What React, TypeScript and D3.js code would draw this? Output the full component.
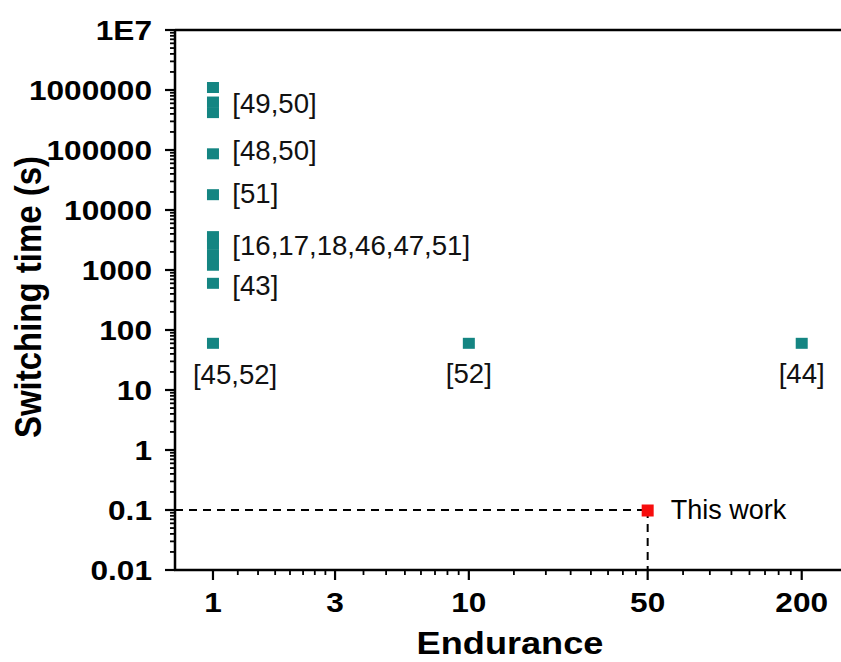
import React from "react";
import * as d3 from "d3";

const W = 841;
const H = 662;

// axis ticks
const xTickValues = [1, 3, 10, 50, 200];
const xTickLabels = ["1", "3", "10", "50", "200"];
const yTickValues = [0.01, 0.1, 1, 10, 100, 1000, 10000, 100000, 1000000, 10000000];
const yTickLabels = ["0.01", "0.1", "1", "10", "100", "1000", "10000", "100000", "1000000", "1E7"];

// literature data (endurance, switching time in s)
const refEndurance = [1, 1, 1, 1, 1, 1, 1, 1, 1, 1, 1, 10, 200];
const refTime = [1100000, 630000, 420000, 86400, 18000, 3600, 2700, 1800, 1200, 600, 60, 60, 60];

// this work
const workEndurance = [50];
const workTime = [0.1];
const workLabel = ["This work"];

// reference labels (data coordinates)
const labelText = ["[49,50]", "[48,50]", "[51]", "[16,17,18,46,47,51]", "[43]", "[45,52]", "[52]", "[44]"];
const labelX = [1.19, 1.19, 1.19, 1.19, 1.19, 1.22, 10, 200];
const labelY = [600000, 100000, 19000, 2600, 560, 18, 18.5, 18.5];
const labelAnchor = ["start", "start", "start", "start", "start", "middle", "middle", "middle"];

const TEAL = "#148582";
const RED = "#f70d0d";
const FONT = "'Liberation Sans', Arial, sans-serif";

export default function App() {
  const left = 175, right = 843, top = 30, bottom = 570;
  const x = d3.scaleLog().domain([0.7105, 290]).range([left, right]);
  const y = d3.scaleLog().domain([0.01, 1e7]).range([bottom, top]);

  // minor x ticks: 7 linear subdivisions between major ticks
  const xMinor: number[] = [];
  for (let k = 0; k < xTickValues.length - 1; k++) {
    const a = xTickValues[k], b = xTickValues[k + 1];
    for (let i = 1; i < 8; i++) xMinor.push(a + (i * (b - a)) / 8);
  }
  const yMinor: number[] = [];
  for (let k = 0; k < yTickValues.length - 1; k++) {
    for (let m = 2; m <= 9; m++) yMinor.push(yTickValues[k] * m);
  }

  const mw = 12, mh = 11;
  const sx = 1.13;

  return (
    <svg width={W} height={H} style={{ position: "absolute", left: 0, top: 0, background: "#fff" }} fontFamily={FONT}>
      {/* dashed guide lines */}
      <line x1={left} x2={x(workEndurance[0])} y1={y(workTime[0])} y2={y(workTime[0])} stroke="#000" strokeWidth={2} strokeDasharray="8,6" />
      <line x1={x(workEndurance[0])} x2={x(workEndurance[0])} y1={y(workTime[0])} y2={bottom} stroke="#000" strokeWidth={2} strokeDasharray="8,6" />

      {/* frame */}
      <line x1={left} x2={W} y1={top} y2={top} stroke="#000" strokeWidth={2.5} />
      <line x1={left} x2={left} y1={top - 1} y2={bottom + 1} stroke="#000" strokeWidth={2.5} />
      <line x1={left - 1} x2={W} y1={bottom} y2={bottom} stroke="#000" strokeWidth={2.5} />

      {/* y ticks */}
      {yMinor.map((v, i) => (
        <line key={"ym" + i} x1={left - 5} x2={left} y1={y(v)} y2={y(v)} stroke="#000" strokeWidth={1.8} />
      ))}
      {yTickValues.map((v, i) => (
        <g key={"yt" + i}>
          <line x1={left - 10} x2={left} y1={y(v)} y2={y(v)} stroke="#000" strokeWidth={2.2} />
          <text
            transform={`translate(${152},${y(v)}) scale(${sx},1)`}
            textAnchor="end"
            dominantBaseline="central"
            fontWeight="bold"
            fontSize={28}
          >
            {yTickLabels[i]}
          </text>
        </g>
      ))}

      {/* x ticks */}
      {xMinor.map((v, i) => (
        <line key={"xm" + i} x1={x(v)} x2={x(v)} y1={bottom} y2={bottom + 5} stroke="#000" strokeWidth={1.8} />
      ))}
      {xTickValues.map((v, i) => (
        <g key={"xt" + i}>
          <line x1={x(v)} x2={x(v)} y1={bottom} y2={bottom + 10} stroke="#000" strokeWidth={2.2} />
          <text
            transform={`translate(${x(v)},${612}) scale(${sx},1)`}
            textAnchor="middle"
            fontWeight="bold"
            fontSize={28}
          >
            {xTickLabels[i]}
          </text>
        </g>
      ))}

      {/* axis titles */}
      <text transform={`translate(${510},${654}) scale(1.13,1)`} textAnchor="middle" fontWeight="bold" fontSize={32}>
        Endurance
      </text>
      <text transform={`translate(${41},${297}) rotate(-90) scale(1,1.12)`} textAnchor="middle" fontWeight="bold" fontSize={33}>
        Switching time (s)
      </text>

      {/* reference markers */}
      {refEndurance.map((e, i) => (
        <rect key={"r" + i} x={x(e) - mw / 2} y={y(refTime[i]) - mh / 2} width={mw} height={mh} fill={TEAL} />
      ))}

      {/* this work marker */}
      {workEndurance.map((e, i) => (
        <g key={"w" + i}>
          <rect x={x(e) - mw / 2} y={y(workTime[i]) - mh / 2} width={mw} height={mh + 1} fill={RED} />
          <text x={x(e) + 23} y={y(workTime[i])} dominantBaseline="central" fontSize={27}>
            {workLabel[i]}
          </text>
        </g>
      ))}

      {/* labels */}
      {labelText.map((t, i) => (
        <text
          key={"l" + i}
          x={x(labelX[i])}
          y={y(labelY[i])}
          textAnchor={labelAnchor[i] as any}
          dominantBaseline="central"
          fontSize={27.6}
          fill="#111"
        >
          {t}
        </text>
      ))}
    </svg>
  );
}
